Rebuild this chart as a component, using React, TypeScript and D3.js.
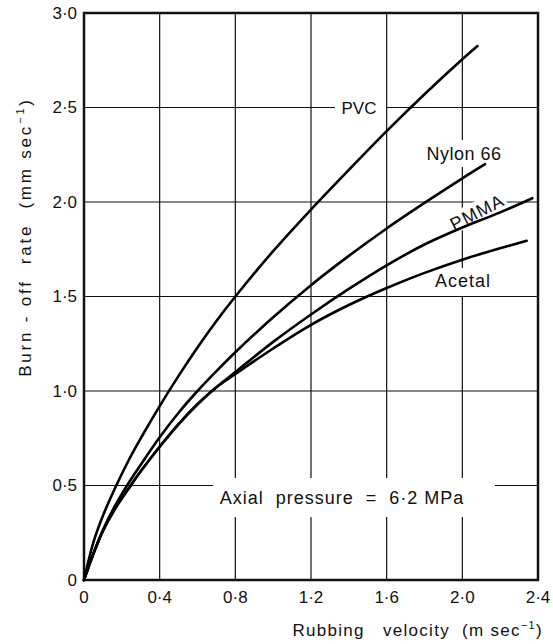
import React from 'react';
import * as d3 from 'd3';

const width = 553;
const height = 644;
const left = 84, right = 538, top = 13, bottom = 580;

const xTicks = [0, 0.4, 0.8, 1.2, 1.6, 2.0, 2.4];
const yTicks = [0, 0.5, 1.0, 1.5, 2.0, 2.5, 3.0];

// curves (velocity m/s, burn-off rate mm/s)
const pvcV = [0, 0.05, 0.1, 0.18, 0.25, 0.3, 0.4, 0.5, 0.6, 0.7, 0.8, 1.0, 1.2, 1.4, 1.6, 1.8, 2.0, 2.08];
const pvcR = [0, 0.2, 0.34, 0.52, 0.66, 0.75, 0.92, 1.08, 1.23, 1.37, 1.5, 1.74, 1.96, 2.17, 2.375, 2.57, 2.755, 2.825];

const nylonV = [0, 0.05, 0.1, 0.16, 0.24, 0.3, 0.4, 0.5, 0.6, 0.7, 0.8, 1.0, 1.2, 1.4, 1.6, 1.8, 2.0, 2.12];
const nylonR = [0, 0.14, 0.265, 0.385, 0.52, 0.61, 0.755, 0.885, 1.0, 1.105, 1.205, 1.39, 1.56, 1.715, 1.86, 1.995, 2.125, 2.2];

const pmmaV = [0, 0.05, 0.1, 0.16, 0.24, 0.3, 0.4, 0.5, 0.6, 0.7, 0.8, 1.0, 1.2, 1.4, 1.6, 1.8, 2.0, 2.2, 2.37];
const pmmaR = [0, 0.14, 0.26, 0.37, 0.49, 0.575, 0.705, 0.825, 0.93, 1.02, 1.1, 1.26, 1.405, 1.54, 1.665, 1.775, 1.865, 1.945, 2.02];

const acetalV = [0, 0.05, 0.1, 0.16, 0.24, 0.3, 0.4, 0.5, 0.6, 0.7, 0.8, 1.0, 1.2, 1.4, 1.6, 1.8, 2.0, 2.2, 2.34];
const acetalR = [0, 0.14, 0.26, 0.37, 0.49, 0.575, 0.705, 0.825, 0.93, 1.02, 1.09, 1.225, 1.35, 1.455, 1.545, 1.625, 1.695, 1.755, 1.795];

const font = "'Liberation Sans', Arial, sans-serif";

const fmt = (d: number) => (d === 0 ? '0' : d3.format('.1f')(d).replace('.', '\u00b7'));

const App = () => {
  const x = d3.scaleLinear().domain([0, 2.4]).range([left, right]);
  const y = d3.scaleLinear().domain([0, 3.0]).range([bottom, top]);

  const line = d3.line<[number, number]>()
    .x(d => x(d[0]))
    .y(d => y(d[1]))
    .curve(d3.curveCatmullRom.alpha(0.5));

  const series = [
    { v: pvcV, r: pvcR },
    { v: nylonV, r: nylonR },
    { v: pmmaV, r: pmmaR },
    { v: acetalV, r: acetalR },
  ];

  return (
    <svg width={width} height={height} style={{ position: 'absolute', left: 0, top: 0, background: '#fff' }}
      fontFamily={font}>
      <rect width={width} height={height} fill="#fff" />
      {/* grid */}
      {xTicks.slice(1, -1).map(t => (
        <line key={'gx' + t} x1={x(t)} x2={x(t)} y1={top} y2={bottom} stroke="#111" strokeWidth={1.2} />
      ))}
      {yTicks.slice(1, -1).map(t => (
        <line key={'gy' + t} x1={left} x2={right} y1={y(t)} y2={y(t)} stroke="#111" strokeWidth={1.2} />
      ))}

      {/* gaps in the grid behind labels */}
      <rect x={335} y={y(2.5) - 6} width={51} height={12} fill="#fff" />
      <rect x={x(2.0) - 4} y={140} width={8} height={27} fill="#fff" />
      <rect x={x(2.0) - 4} y={268} width={8} height={28} fill="#fff" />
      <rect x={213} y={478} width={282} height={39} fill="#fff" />
      <g transform={`translate(476,212) rotate(-27)`}>
        <rect x={-32} y={-10} width={64} height={20} fill="#fff" />
      </g>

      {/* frame */}
      <rect x={left} y={top} width={right - left} height={bottom - top} fill="none" stroke="#111" strokeWidth={2.5} />

      {/* curves */}
      {series.map((s, i) => (
        <path key={i} d={line(s.v.map((v, j) => [v, s.r[j]] as [number, number])) || ''}
          fill="none" stroke="#000" strokeWidth={2.6} strokeLinejoin="round" strokeLinecap="round" />
      ))}

      {/* tick labels */}
      {yTicks.map(t => (
        <text key={'ty' + t} x={77} y={y(t)} dy="0.35em" textAnchor="end" fontSize={17} fill="#111">{fmt(t)}</text>
      ))}
      {xTicks.map(t => (
        <text key={'tx' + t} x={x(t)} y={603} textAnchor="middle" fontSize={17} fill="#111">{fmt(t)}</text>
      ))}

      {/* curve labels */}
      <text x={359} y={y(2.5)} dy="0.36em" textAnchor="middle" fontSize={17} fill="#111">PVC</text>
      <text x={464} y={154} dy="0.36em" textAnchor="middle" fontSize={18} letterSpacing={0.5} fill="#111">Nylon 66</text>
      <text x={463} y={281} dy="0.36em" textAnchor="middle" fontSize={18} letterSpacing={1} fill="#111">Acetal</text>
      <text transform="translate(477,212) rotate(-27)" dy="0.36em" textAnchor="middle" fontSize={18} letterSpacing={1} fill="#111">PMMA</text>
      <text x={342} y={498} dy="0.36em" textAnchor="middle" fontSize={18} letterSpacing={1} fill="#111"
        style={{ whiteSpace: 'pre' }}>{'Axial  pressure  =  6\u00b72 MPa'}</text>

      {/* axis titles */}
      <text x={543} y={636} textAnchor="end" fontSize={17} letterSpacing={1.3} fill="#111" style={{ whiteSpace: 'pre' }}>
        {'Rubbing   velocity  (m sec'}
        <tspan dy={-7} fontSize={11}>{'\u22121'}</tspan>
        <tspan dy={7}>)</tspan>
      </text>
      <text transform="translate(31,237) rotate(-90)" textAnchor="middle" fontSize={17} letterSpacing={2.8}
        fill="#111" style={{ whiteSpace: 'pre' }}>
        {'Burn - off  rate  (mm sec'}
        <tspan dy={-7} fontSize={11}>{'\u22121'}</tspan>
        <tspan dy={7}>)</tspan>
      </text>
    </svg>
  );
};

export default App;
